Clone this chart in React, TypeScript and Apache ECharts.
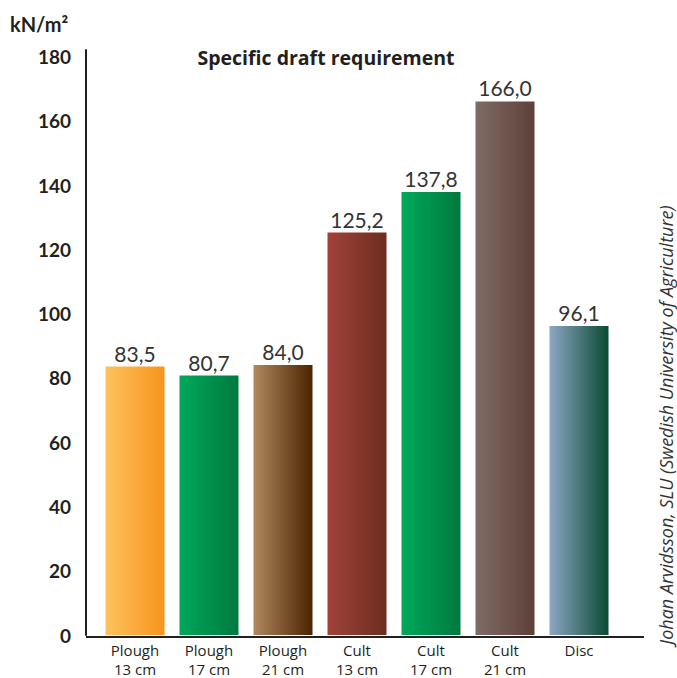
import React, { useEffect, useRef } from "react";
import * as echarts from "echarts";

const categories = ["Plough\n13 cm", "Plough\n17 cm", "Plough\n21 cm", "Cult\n13 cm", "Cult\n17 cm", "Cult\n21 cm", "Disc"];
const values = [83.5, 80.7, 84.0, 125.2, 137.8, 166.0, 96.1];
const barColors = [
  ["#FDC25E", "#F7941D"],
  ["#00A85A", "#007A3F"],
  ["#B08960", "#4A2300"],
  ["#A2423A", "#6C2D1F"],
  ["#00A85A", "#007A3F"],
  ["#7E6C66", "#5E4038"],
  ["#8DA6C4", "#0A4A33"],
];
const yTicks = { min: 0, max: 182, step: 20 };
const title = "Specific draft requirement";
const unit = "kN/m²";
const credit = "Johan Arvidsson, SLU (Swedish University of Agriculture)";

const FONT = "Lato, 'Open Sans', sans-serif";
const WIDE = "'Open Sans', Lato, sans-serif";

export default function App() {
  const ref = useRef<HTMLDivElement>(null);
  useEffect(() => {
    if (!ref.current) return;
    const chart = echarts.init(ref.current, undefined, { renderer: "svg" });
    chart.setOption({
      animation: false,
      backgroundColor: "#ffffff",
      textStyle: { fontFamily: FONT },
      grid: { left: 98, width: 518, top: 50, height: 587 },
      xAxis: {
        type: "category",
        data: categories,
        axisLine: { show: false },
        axisTick: { show: false },
        axisLabel: { color: "#231f20", fontSize: 15, lineHeight: 19, margin: 5, fontFamily: WIDE },
      },
      yAxis: {
        type: "value",
        min: yTicks.min,
        max: yTicks.max,
        interval: yTicks.step,
        offset: 12,
        splitLine: { show: false },
        axisTick: { show: false },
        axisLine: { show: true, lineStyle: { color: "#231f20", width: 2 } },
        axisLabel: {
          color: "#231f20",
          fontSize: 19,
          fontWeight: "bold",
          margin: 15,
          fontFamily: FONT,
          formatter: (v: number) => (v % yTicks.step === 0 ? String(v) : ""),
        },
      },
      series: [
        {
          type: "bar",
          barWidth: 59,
          data: values.map((v, i) => ({
            value: v,
            itemStyle: {
              color: new echarts.graphic.LinearGradient(0, 0, 1, 0, [
                { offset: 0, color: barColors[i][0] },
                { offset: 1, color: barColors[i][1] },
              ]),
            },
          })),
          label: {
            show: true,
            position: "top",
            distance: 3,
            color: "#333333",
            fontSize: 21,
            fontFamily: FONT,
            formatter: (p: any) => Number(p.value).toFixed(1).replace(".", ","),
          },
        },
      ],
      graphic: [
        {
          type: "line",
          shape: { x1: 86, y1: 637, x2: 644, y2: 637 },
          style: { stroke: "#231f20", lineWidth: 2 },
        },
        {
          type: "text",
          x: 326,
          y: 57,
          style: {
            text: title,
            fontSize: 19.5,
            fontWeight: "bold",
            fontFamily: WIDE,
            fill: "#231f20",
            align: "center",
            verticalAlign: "middle",
          },
        },
        {
          type: "text",
          x: 10,
          y: 24,
          style: {
            text: unit,
            fontSize: 20,
            fontWeight: "bold",
            fontFamily: FONT,
            fill: "#231f20",
            align: "left",
            verticalAlign: "middle",
          },
        },
        {
          type: "text",
          x: 666,
          y: 425,
          rotation: Math.PI / 2,
          style: {
            text: credit,
            fontSize: 18,
            lineHeight: 18,
            fontStyle: "italic",
            fontFamily: WIDE,
            fill: "#333333",
            align: "center",
            verticalAlign: "middle",
          },
        },
      ],
    });
    return () => chart.dispose();
  }, []);
  return <div ref={ref} style={{ position: "fixed", left: 0, top: 0, width: 677, height: 678 }} />;
}
